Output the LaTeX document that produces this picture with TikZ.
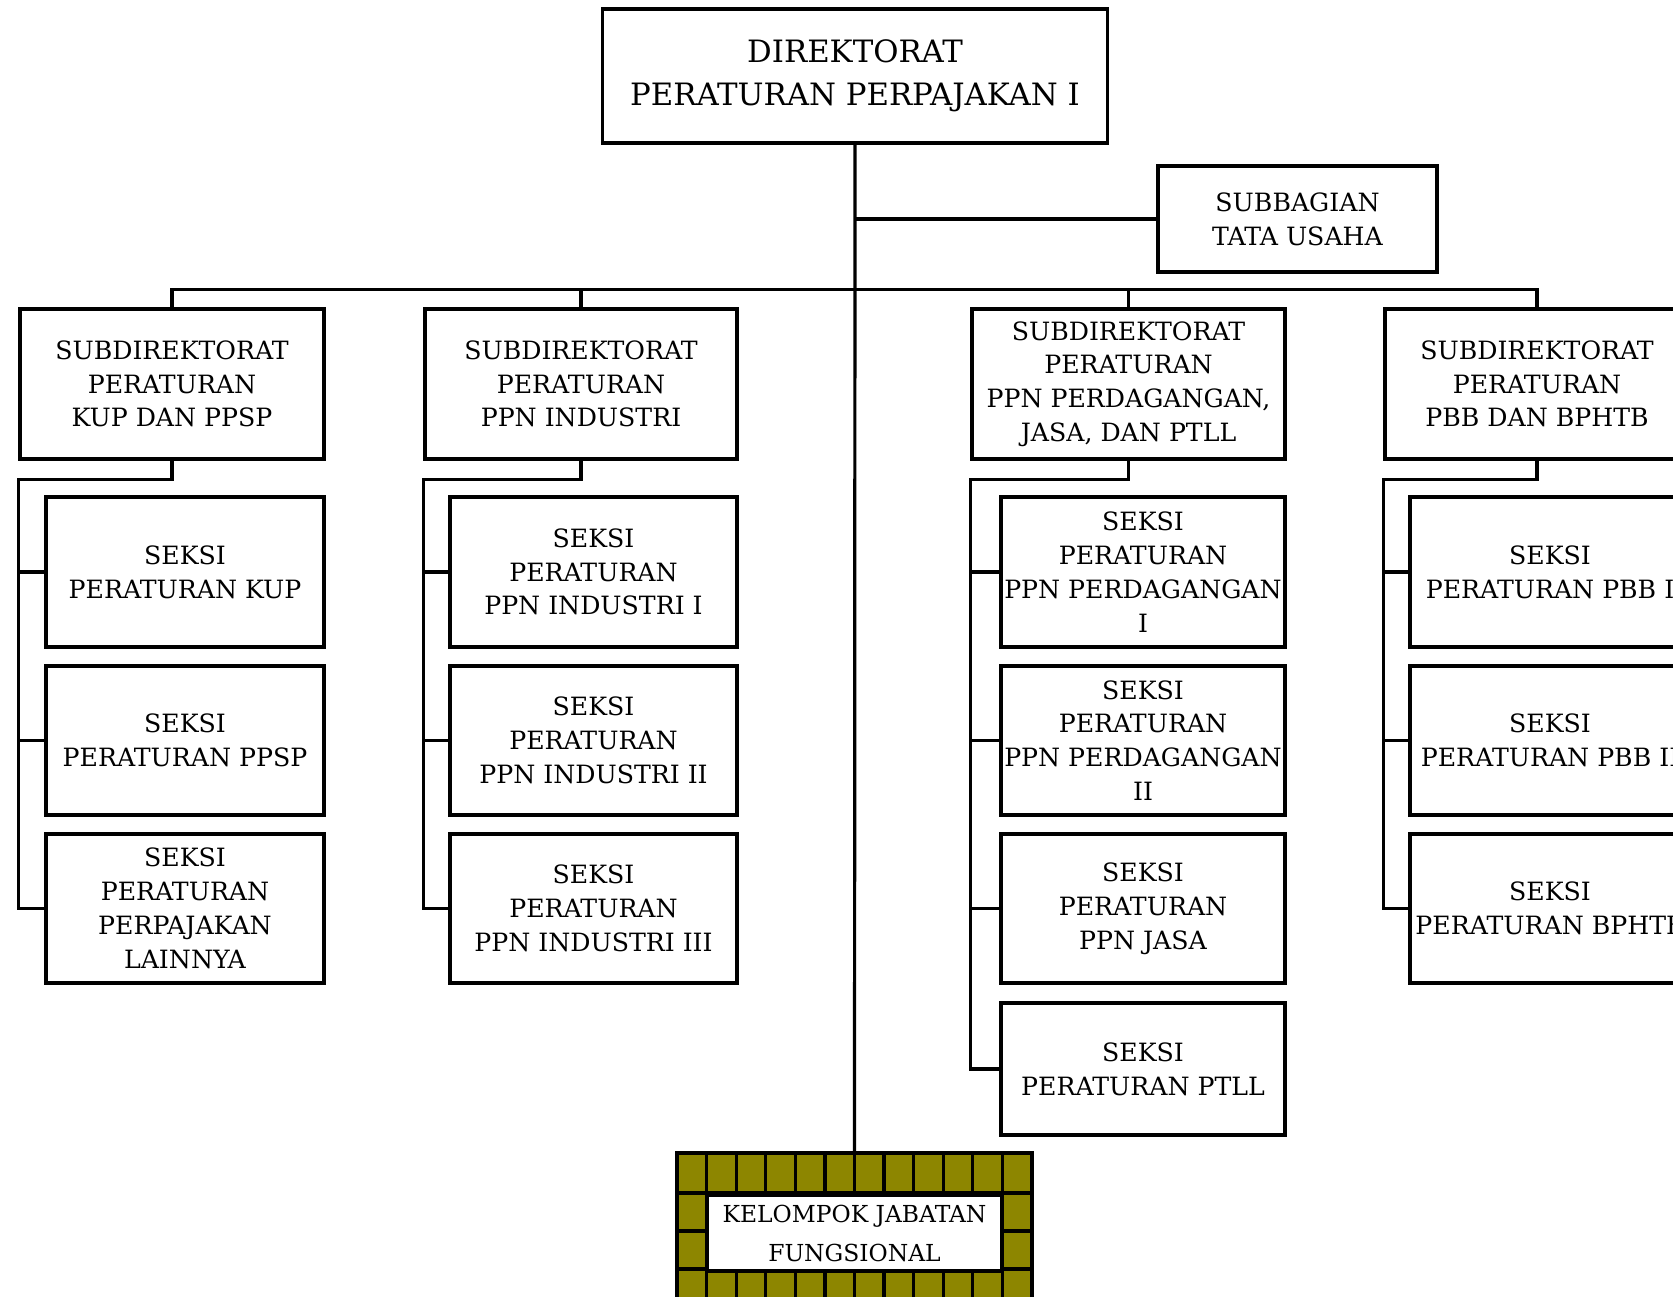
\documentclass[tikz,border=0pt]{standalone}
\usepackage{fontspec}
\setmainfont{DejaVu Serif}
\begin{document}
\begin{tikzpicture}[x=0.5pt,y=-0.5pt,
  box/.style={draw=black, line width=1.6pt, fill=white, align=center, inner sep=0pt,
    font=\fontsize{12.6}{16.9}\selectfont},
  topbox/.style={box, font=\fontsize{15.4}{21.5}\selectfont},
  conn/.style={line width=1.6pt},
  grid/.style={line width=1.6pt}]
\useasboundingbox (0,0) rectangle (1673,1296);
% top level
\node[topbox, minimum width=252.5pt, minimum height=67pt] (top) at (855,76) {DIREKTORAT\\PERATURAN PERPAJAKAN I};
\node[box, minimum width=139.5pt, minimum height=53pt] (sub) at (1297.5,219) {SUBBAGIAN\\TATA USAHA};
% subdirectorates
\node[box, minimum width=152pt, minimum height=75pt] (sd1) at (172,384) {SUBDIREKTORAT\\PERATURAN\\KUP DAN PPSP};
\node[box, minimum width=156pt, minimum height=75pt] (sd2) at (581,384) {SUBDIREKTORAT\\PERATURAN\\PPN INDUSTRI};
\node[box, minimum width=156.5pt, minimum height=75pt] (sd3) at (1128.5,384) {SUBDIREKTORAT\\PERATURAN\\PPN PERDAGANGAN,\\JASA, DAN PTLL};
\node[box, minimum width=152pt, minimum height=75pt] (sd4) at (1537,384) {SUBDIREKTORAT\\PERATURAN\\PBB DAN BPHTB};
% column 1
\node[box, minimum width=139pt, minimum height=75pt] (s11) at (185,572) {SEKSI\\PERATURAN KUP};
\node[box, minimum width=139pt, minimum height=74.5pt] (s12) at (185,740.5) {SEKSI\\PERATURAN PPSP};
\node[box, minimum width=139pt, minimum height=74.5pt] (s13) at (185,908.5) {SEKSI\\PERATURAN\\PERPAJAKAN\\LAINNYA};
% column 2
\node[box, minimum width=143.5pt, minimum height=75pt] (s21) at (593.5,572) {SEKSI\\PERATURAN\\PPN INDUSTRI I};
\node[box, minimum width=143.5pt, minimum height=74.5pt] (s22) at (593.5,740.5) {SEKSI\\PERATURAN\\PPN INDUSTRI II};
\node[box, minimum width=143.5pt, minimum height=74.5pt] (s23) at (593.5,908.5) {SEKSI\\PERATURAN\\PPN INDUSTRI III};
% column 3
\node[box, minimum width=142pt, minimum height=75pt] (s31) at (1143,572) {SEKSI\\PERATURAN\\PPN PERDAGANGAN\\I};
\node[box, minimum width=142pt, minimum height=74.5pt] (s32) at (1143,740.5) {SEKSI\\PERATURAN\\PPN PERDAGANGAN\\II};
\node[box, minimum width=142pt, minimum height=74.5pt] (s33) at (1143,908.5) {SEKSI\\PERATURAN\\PPN JASA};
\node[box, minimum width=142pt, minimum height=66pt] (s34) at (1143,1069) {SEKSI\\PERATURAN PTLL};
% column 4
\node[box, minimum width=140pt, minimum height=75pt] (s41) at (1550,572) {SEKSI\\PERATURAN PBB I};
\node[box, minimum width=140pt, minimum height=74.5pt] (s42) at (1550,740.5) {SEKSI\\PERATURAN PBB II};
\node[box, minimum width=140pt, minimum height=74.5pt] (s43) at (1550,908.5) {SEKSI\\PERATURAN BPHTB};
% kelompok jabatan fungsional
\node[draw=black, line width=1.6pt, fill=olive, minimum width=177.5pt, minimum height=77pt, inner sep=0pt] (kjf) at (854.5,1230) {};
\foreach \i in {1,...,11} {
  \draw[grid] (677+\i*29.583,1153) -- (677+\i*29.583,1193);
  \draw[grid] (677+\i*29.583,1269) -- (677+\i*29.583,1307);
}
\draw[grid] (677,1193) -- (1032,1193);
\draw[grid] (677,1269) -- (1032,1269);
\draw[grid] (677,1231) -- (707,1231);
\draw[grid] (1002,1231) -- (1032,1231);
\node[draw=black, line width=1.6pt, fill=white, minimum width=147.5pt, minimum height=38pt, inner sep=0pt, align=center,
  font=\fontsize{11.7}{19.5}\selectfont] (kjft) at (854.5,1233) {KELOMPOK JABATAN\\FUNGSIONAL};
% connectors
\draw[conn] (top.south) -- (kjf.north);
\draw[conn] (top.south |- sub.west) -- (sub.west);
\draw[conn] (sd1.north) -- ++(0,-18) -| (sd4.north);
\draw[conn] (sd2.north) -- ++(0,-18);
\draw[conn] (sd3.north) -- ++(0,-18);
% spines
\draw[conn] (sd1.south) -- ++(0,19) -| (sd1.west |- s13.west) -- (s13.west);
\draw[conn] (sd1.west |- s11.west) -- (s11.west);
\draw[conn] (sd1.west |- s12.west) -- (s12.west);
\draw[conn] (sd2.south) -- ++(0,19) -| (sd2.west |- s23.west) -- (s23.west);
\draw[conn] (sd2.west |- s21.west) -- (s21.west);
\draw[conn] (sd2.west |- s22.west) -- (s22.west);
\draw[conn] (sd3.south) -- ++(0,19) -| (sd3.west |- s34.west) -- (s34.west);
\draw[conn] (sd3.west |- s31.west) -- (s31.west);
\draw[conn] (sd3.west |- s32.west) -- (s32.west);
\draw[conn] (sd3.west |- s33.west) -- (s33.west);
\draw[conn] (sd4.south) -- ++(0,19) -| (sd4.west |- s43.west) -- (s43.west);
\draw[conn] (sd4.west |- s41.west) -- (s41.west);
\draw[conn] (sd4.west |- s42.west) -- (s42.west);
\end{tikzpicture}
\end{document}
